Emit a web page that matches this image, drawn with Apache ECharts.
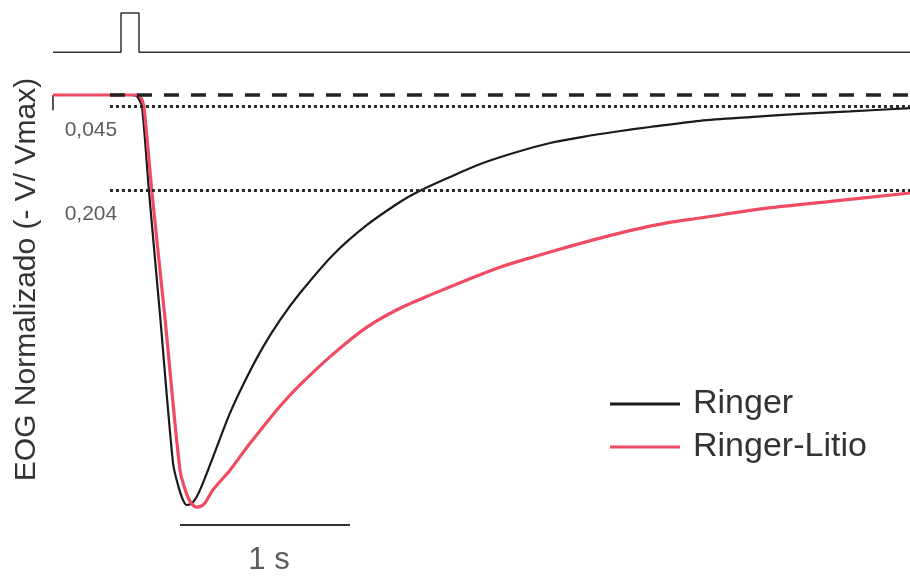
<!DOCTYPE html>
<html><head><meta charset="utf-8">
<script src="https://cdn.jsdelivr.net/npm/echarts@6/dist/echarts.min.js"></script>
<style>html,body{margin:0;padding:0;background:#fff}#chart{width:910px;height:576px}</style>
</head><body><div id="chart"></div>
<script>
// time in seconds (0 = stimulus onset), amplitude normalized (-V/Vmax), 1 = peak
const ringerT = [-0.4, 0.053, 0.088, 0.106, 0.124, 0.165, 0.229, 0.306, 0.335, 0.365, 0.388, 0.424, 0.465, 0.541, 0.641, 0.741, 0.835, 0.935, 1.053, 1.247, 1.447, 1.641, 1.741, 1.935, 2.129, 2.329, 2.524, 2.718, 2.918, 3.112, 3.406, 3.700, 3.994, 4.288, 4.641];
const ringerV = [0, 0, 0.002, 0.010, 0.029, 0.237, 0.534, 0.898, 0.951, 0.988, 1.000, 0.993, 0.963, 0.883, 0.776, 0.688, 0.615, 0.549, 0.483, 0.390, 0.317, 0.261, 0.237, 0.200, 0.166, 0.139, 0.117, 0.102, 0.089, 0.078, 0.063, 0.054, 0.046, 0.040, 0.032];
const litioT = [-0.4, 0.1, 0.118, 0.135, 0.182, 0.259, 0.347, 0.382, 0.412, 0.447, 0.488, 0.541, 0.641, 0.741, 0.835, 0.935, 1.053, 1.247, 1.447, 1.641, 1.835, 2.035, 2.229, 2.424, 2.624, 2.818, 3.012, 3.212, 3.406, 3.800, 4.188, 4.641];
const litioV = [0, 0, 0.007, 0.029, 0.237, 0.546, 0.915, 0.968, 0.995, 1.005, 0.998, 0.963, 0.915, 0.859, 0.810, 0.759, 0.707, 0.632, 0.566, 0.520, 0.485, 0.451, 0.420, 0.395, 0.371, 0.349, 0.329, 0.312, 0.300, 0.276, 0.259, 0.239];
// small start tick of the recording
const startTickT = [-0.4, -0.4];
const startTickV = [0, 0.037];
// stimulus trace (arbitrary units on the same axis, above baseline)
const stimT = [-0.4, 0, 0, 0.106, 0.106, 4.641];
const stimV = [-0.104, -0.104, -0.2, -0.2, -0.104, -0.104];
// reference levels
const baselineLevel = 0;
const refLevels = [0.028, 0.233];
const refLabels = ['0,045', '0,204'];
const refStart = -0.065, refEnd = 4.641;
// scale bar 1 s
const scaleStart = 0.347, scaleEnd = 1.347, scaleLevel = 1.049;
const scaleLabel = '1 s';
const seriesNames = ['Ringer', 'Ringer-Litio'];
const yName = 'EOG Normalizado (- V/ Vmax)';

const zip = (a, b) => a.map((x, i) => [x, b[i]]);
const FONT = "'Liberation Sans', Arial, sans-serif";
const chart = echarts.init(document.getElementById('chart'));
const dark = '#222';
const red = '#ef4c64';

const series = [
  { name: 'stim', type: 'line', data: zip(stimT, stimV), symbol: 'none', clip: false,
    lineStyle: { color: '#333', width: 1.5 }, silent: true, z: 2 },
  { name: 'tick', type: 'line', data: zip(startTickT, startTickV), symbol: 'none', clip: false,
    lineStyle: { color: '#555', width: 2 }, silent: true, z: 2 },
  { name: seriesNames[0], type: 'line', data: zip(ringerT, ringerV), symbol: 'none', smooth: 0.3,
    lineStyle: { color: '#1a1a1a', width: 2.2 }, itemStyle: { color: '#1a1a1a' }, z: 3 },
  { name: seriesNames[1], type: 'line', data: zip(litioT, litioV), symbol: 'none', smooth: 0.3,
    lineStyle: { color: red, width: 3.2 }, itemStyle: { color: red }, z: 4 },
  { name: 'baseline', type: 'line', data: [[refStart, baselineLevel], [refEnd, baselineLevel]], symbol: 'none', clip: false,
    lineStyle: { color: dark, width: 3.5, type: [15, 12] }, silent: true, z: 5 },
];
refLevels.forEach((lv, i) => {
  series.push({ name: 'ref' + i, type: 'line', data: [[refStart, lv], [refEnd, lv]], symbol: 'none', clip: false,
    lineStyle: { color: '#2a2a2a', width: 3, type: [3, 3] }, silent: true, z: 5 });
});
series.push({ name: 'refLabels', type: 'scatter', symbolSize: 0, silent: true, z: 6,
  data: refLevels.map((lv, i) => ({ value: [refStart, lv], label: { formatter: refLabels[i] } })),
  label: { show: true, position: 'inside', offset: [-19, 24], fontFamily: FONT, fontSize: 21, color: '#333' } });
series.push({ name: 'scalebar', type: 'line', data: [[scaleStart, scaleLevel], [scaleEnd, scaleLevel]], symbol: 'none', clip: false,
  lineStyle: { color: '#333', width: 2 }, silent: true, z: 5 });
series.push({ name: 'scaleLabel', type: 'scatter', symbolSize: 0, silent: true, z: 6,
  data: [{ value: [(scaleStart + scaleEnd) / 2, scaleLevel], label: { formatter: scaleLabel } }],
  label: { show: true, position: 'inside', offset: [4, 35], fontFamily: FONT, fontSize: 31, color: '#333' } });

chart.setOption({
  animation: false,
  backgroundColor: '#fff',
  grid: { left: 53, right: 0, top: 13, bottom: 30, containLabel: false, outerBoundsMode: 'none' },
  xAxis: { type: 'value', min: -0.4, max: 4.641, show: false },
  yAxis: { type: 'value', inverse: true, min: -0.2, max: 1.1,
    name: yName, nameLocation: 'middle', nameRotate: 90, nameGap: 11,
    nameTextStyle: { fontFamily: FONT, fontSize: 30, color: '#333' },
    axisLine: { show: false }, axisTick: { show: false }, axisLabel: { show: false }, splitLine: { show: false } },
  legend: { data: seriesNames, orient: 'vertical', left: 605, top: 379, icon: 'rect',
    itemWidth: 70, itemHeight: 3, itemGap: 3,
    textStyle: { fontFamily: FONT, fontSize: 34, color: '#333', lineHeight: 40, padding: [0, 0, 0, 8] } },
  series
});
</script></body></html>
